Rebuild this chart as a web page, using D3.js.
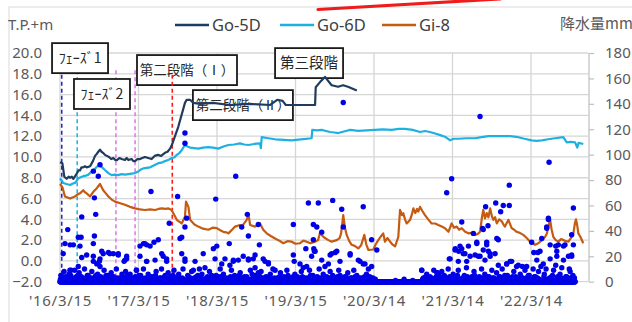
<!DOCTYPE html>
<html><head><meta charset="utf-8">
<script src="https://cdn.jsdelivr.net/npm/d3@7"></script>
<style>
html,body{margin:0;padding:0;background:#fff;}
svg{display:block;font-family:"Noto Sans","Noto Sans CJK JP",sans-serif;}
</style></head><body>
<svg id="chart" width="632" height="322"></svg>
<script>
// ---------------- DATA ----------------
const startDate = "2016-03-15";          // day 0
const axisEndDay = 2455;                 // end of the date axis (days from start)
const xTickDays = [0, 365, 730, 1095, 1460, 1825, 2190];
const xTickLabels = ["'16/3/15", "'17/3/15", "'18/3/15", "'19/3/15", "'20/3/14", "'21/3/14", "'22/3/14"];
const leftTicks = [-2, 0, 2, 4, 6, 8, 10, 12, 14, 16, 18, 20];
const rightTicks = [0, 20, 40, 60, 80, 100, 120, 140, 160, 180];
const seriesNames = ["Go-5D", "Go-6D", "Gi-8"];

// groundwater level T.P.+m : [day, value]
const go5d = [[0,9.5],[11,9.4],[20,8.1],[31,7.9],[40,8.1],[47,8.0],[55,8.1],[62,7.9],[78,8.4],[86,8.7],[93,8.7],[100,9.0],[108,9.0],[116,9.1],[124,9.0],[140,9.1],[153,9.6],[163,10.1],[171,10.3],[178,10.5],[186,10.7],[193,10.5],[200,10.4],[209,10.2],[228,10.0],[238,9.8],[248,9.9],[257,9.7],[265,9.7],[276,9.9],[287,9.8],[302,9.7],[310,9.9],[318,9.7],[333,9.8],[341,9.6],[349,9.6],[360,9.8],[372,9.8],[383,9.9],[395,10.0],[410,9.9],[426,9.8],[440,10.1],[456,10.2],[470,10.1],[488,10.4],[500,10.5],[512,10.8],[519,11.1],[550,12.9],[581,15.2],[589,15.5],[605,15.5],[620,15.2],[651,15.1],[711,15.2],[790,15.0],[884,15.1],[977,15.0],[1010,15.5],[1035,15.4],[1050,15.0],[1093,15.0],[1186,15.0],[1189,16.7],[1209,17.2],[1232,17.7],[1263,16.9],[1293,16.75],[1316,16.9],[1339,16.75],[1380,16.4]];
const go6d = [[0,7.95],[15,7.5],[30,7.4],[47,7.3],[60,7.45],[70,7.5],[85,7.95],[96,8.05],[108,8.15],[120,8.2],[132,8.3],[147,8.6],[160,8.8],[171,9.05],[186,9.2],[196,9.0],[209,8.75],[225,8.45],[240,8.25],[255,8.3],[270,8.25],[286,8.35],[302,8.3],[318,8.35],[333,8.4],[349,8.45],[364,8.6],[376,8.8],[387,8.9],[403,8.95],[419,9.0],[438,9.2],[457,9.4],[472,9.45],[488,9.6],[503,9.7],[519,9.9],[531,9.95],[543,10.2],[556,10.4],[566,10.65],[581,11.15],[593,11.0],[605,10.9],[624,10.85],[643,10.8],[665,10.9],[690,10.95],[712,10.9],[736,10.8],[760,11.0],[783,11.15],[810,11.2],[837,11.3],[856,11.2],[876,11.15],[903,11.25],[930,11.3],[934,10.85],[938,11.9],[968,11.8],[1000,11.7],[1040,11.65],[1077,11.6],[1120,11.7],[1170,11.8],[1173,12.6],[1195,12.55],[1217,12.6],[1236,12.5],[1256,12.4],[1275,12.35],[1294,12.3],[1320,12.45],[1349,12.6],[1387,12.5],[1425,12.55],[1465,12.6],[1500,12.65],[1542,12.6],[1575,12.7],[1604,12.7],[1640,12.6],[1674,12.4],[1697,12.5],[1720,12.4],[1744,12.25],[1768,12.1],[1790,11.95],[1814,11.6],[1830,11.75],[1852,11.75],[1890,11.8],[1930,11.8],[1960,11.9],[1992,12.0],[2040,12.0],[2093,12.0],[2131,11.9],[2160,11.75],[2193,11.6],[2215,11.55],[2240,11.6],[2270,11.7],[2302,11.8],[2340,11.9],[2356,11.4],[2375,11.45],[2395,11.4],[2405,10.9],[2411,11.35],[2433,11.25]];
const gi8 = [[0,7.4],[11,7.1],[23,6.2],[35,6.1],[47,6.0],[58,6.1],[70,6.2],[82,6.4],[93,6.5],[108,6.8],[116,6.6],[124,6.5],[140,6.2],[155,6.65],[171,7.0],[186,7.4],[201,6.8],[213,6.5],[225,6.2],[240,5.9],[256,5.7],[280,5.55],[302,5.4],[325,5.2],[349,5.05],[372,4.95],[395,4.9],[419,4.95],[442,4.9],[458,5.0],[473,5.05],[490,5.0],[504,5.05],[519,4.9],[543,3.95],[566,3.6],[581,4.25],[586,5.7],[597,5.2],[605,3.95],[625,3.5],[643,3.3],[665,3.1],[690,3.0],[710,3.2],[729,3.15],[745,2.95],[759,2.8],[772,2.75],[783,2.65],[800,3.0],[814,3.3],[837,3.45],[845,3.3],[868,3.95],[876,4.5],[884,3.45],[907,3.3],[930,3.6],[945,3.0],[961,2.65],[980,2.4],[1000,2.15],[1020,1.95],[1038,1.7],[1058,1.9],[1077,1.85],[1095,1.65],[1116,1.7],[1132,1.95],[1147,1.85],[1165,1.7],[1186,1.85],[1200,2.0],[1209,2.7],[1220,2.4],[1232,2.2],[1248,2.0],[1263,1.85],[1287,2.0],[1300,2.2],[1307,2.65],[1317,4.4],[1325,3.2],[1333,2.5],[1345,1.9],[1356,1.55],[1370,1.45],[1387,1.2],[1400,1.5],[1415,2.5],[1424,1.6],[1434,1.05],[1457,1.1],[1468,1.6],[1480,2.0],[1490,2.3],[1503,2.65],[1511,1.85],[1522,2.2],[1535,1.85],[1545,1.6],[1558,1.4],[1573,2.3],[1581,4.9],[1590,4.4],[1596,4.6],[1604,4.0],[1612,3.6],[1628,3.95],[1635,4.4],[1643,5.05],[1652,4.6],[1660,5.0],[1666,4.75],[1674,5.2],[1685,4.8],[1697,4.4],[1712,4.0],[1728,3.6],[1744,3.6],[1759,3.45],[1775,3.3],[1790,3.15],[1806,2.8],[1821,3.6],[1832,3.2],[1845,3.3],[1856,3.0],[1868,3.15],[1884,2.8],[1899,2.65],[1915,2.7],[1930,2.5],[1943,2.6],[1953,2.8],[1962,4.2],[1968,4.9],[1976,4.1],[1984,4.6],[1992,4.2],[2000,5.05],[2008,4.3],[2015,3.95],[2023,4.2],[2031,3.6],[2042,4.0],[2054,3.8],[2062,3.5],[2069,3.3],[2085,3.95],[2100,3.15],[2112,3.0],[2123,2.8],[2138,2.7],[2154,2.5],[2170,2.2],[2186,1.85],[2197,1.7],[2209,1.55],[2224,1.7],[2240,2.0],[2255,2.3],[2263,2.6],[2271,3.3],[2279,3.95],[2286,3.0],[2294,2.3],[2305,2.0],[2317,1.85],[2330,2.1],[2341,2.0],[2352,1.9],[2364,1.85],[2379,2.3],[2387,2.65],[2394,3.6],[2399,4.0],[2405,3.4],[2410,2.65],[2420,2.3],[2433,1.7]];

// daily precipitation (mm): observed every day from day 0 to rainObsEnd; days not listed = 0 mm
const rainObsEnd = 2395;
const rain = [[36,41],[101,51],[166,53],[155,87],[178,83],[186,92],[160,66],[98,35],[160,36],[23,30],[47,29],[62,29],[85,35],[93,28],[155,30],[15,22],[51,9],[101,19],[155,20],[183,16],[201,22],[232,22],[271,22],[298,16],[310,18],[171,14],[186,12],[372,28],[395,30],[419,28],[437,31],[457,33],[372,20],[403,16],[442,17],[480,20],[496,16],[423,71],[508,46],[547,67],[558,34],[581,117],[581,109],[589,50],[581,43],[566,35],[581,16],[620,9],[666,22],[713,26],[729,28],[724,65],[752,14],[787,30],[790,13],[806,17],[817,83],[845,43],[852,20],[871,53],[876,36],[876,17],[907,21],[922,45],[927,29],[953,16],[969,14],[1085,45],[1085,21],[1089,16],[1131,11],[1155,62],[1201,62],[1178,45],[1170,20],[1186,24],[1178,33],[1194,43],[1217,39],[1180,26],[1263,22],[1287,24],[1268,64],[1310,57],[1317,141],[1317,43],[1349,22],[1410,59],[1449,33],[1473,25],[1395,16],[1418,14],[1449,12],[1682,9],[1752,7],[1798,70],[1821,81],[1868,47],[1814,18],[1837,25],[1860,28],[1875,22],[1899,28],[1907,20],[1922,38],[1930,21],[1938,31],[1953,130],[1953,20],[1965,42],[1968,25],[1968,41],[1979,59],[1984,29],[1992,24],[2000,20],[2023,22],[2026,62],[2038,33],[2049,55],[2061,60],[2089,60],[2089,76],[2077,14],[2100,16],[2131,13],[2170,12],[2193,31],[2240,34],[2263,43],[2271,49],[2274,94],[2232,24],[2279,29],[2310,24],[2317,29],[2348,29],[2387,29],[2217,17],[2247,14],[2279,18],[2310,20],[2341,17],[2364,20],[2379,21],[2379,37],[2387,58],[2372,8],
 [2263,42],[2271,50],[2203,23],[2222,23],[2305,28],[2341,28],[2379,20],[2093,16],[2123,12],[2150,12],[2085,3],
 [1838,26],[1854,24],[1883,22],[1868,26],[1810,18],[1852,16],[1891,16],[1945,20],[1976,17],[2000,22],[2038,13],[2077,14],[1682,9],[1755,7],[1990,44],[2031,34],[1984,31],[1938,30],
 [1256,21],[1280,23],[1302,16],[1349,21],[1387,17],[1410,14],[1434,10],
 [124,21],[194,24],[225,23],[248,22],[271,21],[155,16],[186,18],[302,17],[310,20],[388,30],[403,29],[403,16],[356,9],[46,9],[85,12],[473,22],[496,18],[566,22],[581,18],[628,16],[674,11],[721,18],[767,18],[806,16],[829,17],[876,18],[899,18],[945,18],[969,15],[1000,9],[907,11],[922,7],[1143,26],[1183,24],[1116,14],[1147,12],[1217,17],[1232,12],[1248,14],
 [4,5],[9,3],[19,8],[28,4],[42,6],[55,3],[68,9],[76,4],[89,7],[105,3],[114,10],[127,5],[136,2],[148,8],[163,4],[175,6],[192,3],[205,9],[214,5],[226,3],[238,7],[250,4],[262,10],[279,3],[288,6],[305,8],[317,4],[326,6],[340,3],[355,9],[366,5],[380,3],[388,10],[410,6],[428,4],[447,8],[465,3],[472,10],[489,5],[503,7],[515,4],[530,9],[538,3],[552,6],[572,10],[594,5],[606,3],[612,8],[634,4],[648,10],[660,6],[681,3],[695,8],[705,5],[738,4],[745,10],[760,6],[775,3],[797,9],[812,5],[825,3],[838,7],[858,4],[885,9],[893,6],[914,3],[935,8],[958,4],[978,6],[990,10],[1010,3],[1025,7],[1040,4],[1055,9],[1068,3],[1092,6],[1104,4],[1122,8],[1138,3],[1160,9],[1176,5],[1190,3],[1205,10],[1224,6],[1240,4],[1256,8],[1275,3],[1296,9],[1302,5],[1325,4],[1338,7],[1356,3],[1366,9],[1380,5],[1402,3],[1425,6],[1440,4],[1455,3],
 [1690,3],[1705,6],[1720,4],[1738,9],[1745,3],[1762,5],[1775,8],[1790,4],[1805,10],[1828,6],[1845,3],[1852,9],[1880,5],[1890,11],[1915,4],[1925,8],[1945,3],[1960,10],[1975,6],[1995,4],[2008,9],[2012,3],[2030,7],[2045,4],[2056,10],[2068,5],[2082,3],[2110,8],[2118,4],[2140,6],[2150,3],[2162,9],[2178,5],[2200,10],[2210,4],[2225,8],[2236,12],[2252,6],[2260,10],[2286,4],[2295,9],[2305,13],[2325,6],[2333,11],[2356,4],[2368,10],[2385,5],[2392,3],
 [2,2],[7,1],[13,4],[17,2],[25,1],[31,3],[38,2],[44,1],[50,5],[58,2],[64,1],[72,3],[80,2],[83,5],[95,1],[99,4],[109,2],[118,1],[122,3],[131,5],[140,1],[144,3],[152,2],[158,1],[168,5],[172,2],[180,1],[189,4],[196,2],[200,1],[210,3],[218,1],[222,5],[230,2],[236,1],[244,4],[253,2],[258,1],[266,3],[272,1],[284,2],[292,4],[298,1],[309,2],[314,5],[321,1],[330,3],[336,2],[345,1],[350,4],[360,2],[369,1],[375,5],[384,2],[392,1],[398,3],[406,2],[414,1],[420,4],[432,2],[438,1],[444,5],[452,2],[459,1],[468,3],[476,2],[482,1],[486,4],[494,2],[500,1],[509,3],[520,2],[526,5],[534,1],[545,2],[550,4],[560,1],[568,3],[576,2],[588,1],[598,4],[603,2],[616,1],[624,3],[630,2],[641,5],[652,1],[656,3],[668,2],[676,1],[686,4],[692,2],[700,1],[710,3],[716,2],[726,5],[733,1],[742,2],[750,4],[756,1],[765,3],[771,2],[780,1],[793,4],[800,2],[808,1],[818,3],[822,2],[833,5],[842,1],[848,3],[855,2],[862,1],[868,4],[880,2],[889,1],[897,3],[904,2],[910,5],[918,1],[925,2],[931,4],[940,1],[948,3],[955,2],[963,1],[972,4],[982,2],[986,1],[996,3],[1004,2],[1015,1],[1020,4],[1030,2],[1036,1],[1045,3],[1050,2],[1060,5],[1072,1],[1078,2],[1084,4],[1096,1],[1100,3],[1110,2],[1116,1],[1127,4],[1134,2],[1142,1],[1150,3],[1156,2],[1165,5],[1172,1],[1181,2],[1196,4],[1200,1],[1210,3],[1214,2],[1220,1],[1230,4],[1236,2],[1245,1],[1252,3],[1260,2],[1268,5],[1272,1],[1284,2],[1290,4],[1299,1],[1308,3],[1314,2],[1320,1],[1330,4],[1334,2],[1344,1],[1352,3],[1360,2],[1372,4],[1376,1],[1386,2],[1392,3],[1398,1],[1408,2],[1416,4],[1430,1],[1436,2],[1445,3],[1460,1],[1466,2],
 [1560,1],[1600,2],[1640,1],[1686,2],[1694,1],[1700,4],[1712,2],[1716,1],[1726,3],[1732,2],[1742,1],[1750,4],[1758,2],[1768,1],[1772,3],[1782,2],[1786,5],[1796,1],[1802,2],[1812,4],[1818,1],[1824,3],[1832,2],[1840,1],[1848,5],[1858,2],[1864,1],[1872,3],[1878,2],[1886,1],[1894,4],[1902,2],[1910,1],[1918,3],[1920,2],[1928,5],[1934,1],[1942,2],[1950,4],[1956,1],[1964,3],[1972,2],[1980,1],[1988,4],[1998,2],[2004,1],[2018,3],[2022,2],[2036,1],[2042,4],[2050,2],[2060,1],[2064,3],[2072,2],[2080,5],[2090,1],[2096,2],[2104,4],[2114,1],[2122,3],[2128,2],[2136,1],[2144,4],[2156,2],[2160,1],[2168,3],[2174,2],[2182,5],[2190,1],[2196,2],[2206,4],[2214,1],[2220,3],[2228,2],[2244,1],[2250,4],[2256,2],[2266,1],[2276,3],[2282,2],[2290,5],[2300,1],[2308,2],[2314,4],[2322,1],[2330,3],[2338,2],[2346,1],[2352,4],[2360,2],[2366,1],[2374,3],[2382,2],[2390,1]];

// construction phase events
const eventDays = [8, 80, 260, 349, 522];
const eventLabels = ["ﾌｪｰｽﾞ1", "ﾌｪｰｽﾞ2", "第二段階（Ⅰ）", "第二段階（Ⅱ）", "第三段階"];

// ---------------- DRAWING ----------------
const svg = d3.select("#chart");
const W = 632, H = 322;
const plot = {left: 60, right: 588, top: 53, bottom: 281.7};
const start = d3.utcParse("%Y-%m-%d")(startDate);
const dayDate = d => d3.utcDay.offset(start, d);

const x = d3.scaleUtc().domain([start, dayDate(axisEndDay)]).range([plot.left, plot.right]);
const yL = d3.scaleLinear().domain([-2, 20]).range([plot.bottom, plot.top]);
const yR = d3.scaleLinear().domain([0, 180]).range([plot.bottom, plot.top]);

const gray = "#595959", grid = "#d6d6d6";

// chart frame
svg.append("rect").attr("x", 9).attr("y", 7).attr("width", W).attr("height", H)
  .attr("fill", "none").attr("stroke", "#d9d9d9").attr("stroke-width", 1);

// red stroke at the top of the picture
svg.append("line").attr("x1", 318).attr("y1", 9.5).attr("x2", 500).attr("y2", -1)
  .attr("stroke", "#ee1c1c").attr("stroke-width", 3.2).attr("stroke-linecap", "round");

// gridlines
svg.append("g").selectAll("line").data(leftTicks).join("line")
  .attr("x1", plot.left).attr("x2", plot.right)
  .attr("y1", d => yL(d)).attr("y2", d => yL(d))
  .attr("stroke", grid).attr("stroke-width", 1.3);
svg.append("g").selectAll("line").data(xTickDays).join("line")
  .attr("x1", d => x(dayDate(d))).attr("x2", d => x(dayDate(d)))
  .attr("y1", plot.top).attr("y2", plot.bottom)
  .attr("stroke", grid).attr("stroke-width", 1.3);

// left axis labels
const leftAxis = d3.axisLeft(yL).tickValues(leftTicks).tickFormat(d3.format(".1f")).tickSize(0).tickPadding(18);
const gL = svg.append("g").attr("transform", `translate(${plot.left},0)`).call(leftAxis);
gL.select(".domain").remove();
gL.selectAll("text").attr("fill", gray).style("font-size", "15px").style("font-family", '"Noto Sans",sans-serif');

// right axis
const rightAxis = d3.axisRight(yR).tickValues(rightTicks).tickSize(5).tickPadding(11);
const gR = svg.append("g").attr("transform", `translate(${plot.right + 1},0)`).call(rightAxis);
gR.select(".domain").attr("stroke", "#bfbfbf").attr("stroke-width", 1.2).attr("d", `M0,${plot.top}V${plot.bottom}`);
gR.selectAll("line").attr("stroke", "#bfbfbf").attr("stroke-width", 1.2);
gR.selectAll("text").attr("fill", gray).style("font-size", "15px").style("font-family", '"Noto Sans",sans-serif');

// bottom axis labels
const bottomAxis = d3.axisBottom(x).tickValues(xTickDays.map(dayDate))
  .tickFormat((d, i) => xTickLabels[i]).tickSize(0).tickPadding(14);
const gB = svg.append("g").attr("transform", `translate(0,${plot.bottom})`).call(bottomAxis);
gB.select(".domain").remove();
gB.selectAll("text").attr("fill", gray).style("font-size", "15px")
  .style("letter-spacing", "0.7px").style("font-family", '"Noto Sans",sans-serif');

// axis titles
svg.append("text").attr("x", 8).attr("y", 30).attr("fill", gray).style("font-size", "15px").text("T.P.+m");
svg.append("text").attr("x", 560).attr("y", 29).attr("fill", gray)
  .style("font-size", "15px").style("font-family", '"Noto Sans CJK JP",sans-serif').text("降水量mm");

// legend
const colors = {"Go-5D": "#1f3b5e", "Go-6D": "#1fb0e2", "Gi-8": "#c55a11"};
const legendX = [175, 280, 382];
seriesNames.forEach((n, i) => {
  const lx = legendX[i];
  svg.append("line").attr("x1", lx).attr("x2", lx + 34).attr("y1", 25).attr("y2", 25)
    .attr("stroke", colors[n]).attr("stroke-width", 2.5);
  svg.append("text").attr("x", lx + 37).attr("y", 31).attr("fill", "#404040")
    .style("font-size", "16.5px").text(n);
});

// event dashed lines
const eventColors = ["#2a2ab8", "#2ab4e0", "#e07ce8", "#e07ce8", "#ff1a1a"];
const eventTop = [17.9, 18.35, 18.35, 18.35, 17.9];
const evG = svg.append("g");
eventDays.forEach((d, i) => {
  if (i === 4) return;
  evG.append("line").attr("x1", x(dayDate(d))).attr("x2", x(dayDate(d)))
    .attr("y1", yL(eventTop[i])).attr("y2", plot.bottom)
    .attr("stroke", eventColors[i]).attr("stroke-width", 1.6).attr("stroke-dasharray", "4,3");
});

// annotation boxes: [label index, anchor day (left edge), anchor value (top edge), width, height, font size]
const boxes = [
  [0, -37, 20.95, 56, 30, 14],
  [1, 65, 17.5, 56, 30, 14],
  [2, 358, 19.8, 100, 30, 13.5],
  [3, 618, 16.43, 100, 30, 13.5],
  [4, 1000, 20.47, 68, 30, 14.5]
];
const bG = svg.append("g");
boxes.forEach(([li, d, v, w, h, fs]) => {
  const bx = x(dayDate(d)), by = yL(v);
  bG.append("rect").attr("x", bx).attr("y", by).attr("width", w).attr("height", h)
    .attr("fill", "#fff").attr("stroke", "#1a1a1a").attr("stroke-width", 1.8);
  bG.append("text").attr("x", bx + w / 2).attr("y", by + h / 2 + fs * 0.36)
    .attr("text-anchor", "middle").attr("fill", "#262626")
    .style("font-family", '"Noto Sans CJK JP",sans-serif').style("font-size", fs + "px")
    .text(eventLabels[li]);
});

// red event line drawn above its box
svg.append("line").attr("x1", x(dayDate(eventDays[4]))).attr("x2", x(dayDate(eventDays[4])))
  .attr("y1", yL(eventTop[4])).attr("y2", plot.bottom)
  .attr("stroke", eventColors[4]).attr("stroke-width", 1.6).attr("stroke-dasharray", "4,3");

// series lines
const line = d3.line().x(d => x(dayDate(d[0]))).y(d => yL(d[1]));
[["Gi-8", gi8], ["Go-6D", go6d], ["Go-5D", go5d]].forEach(([n, data]) => {
  svg.append("path").datum(data).attr("d", line).attr("fill", "none")
    .attr("stroke", colors[n]).attr("stroke-width", 2.2).attr("stroke-linejoin", "round");
});

// precipitation dots
const rainMap = new Map();
rain.forEach(([d, mm]) => { if (!rainMap.has(d)) rainMap.set(d, []); rainMap.get(d).push(mm); });
const rainAll = [];
for (let d = 0; d <= rainObsEnd; d++) {
  if (rainMap.has(d)) rainMap.get(d).forEach(mm => rainAll.push([d, mm]));
  else rainAll.push([d, 0]);
}
svg.append("g").selectAll("circle").data(rainAll).join("circle")
  .attr("cx", d => x(dayDate(d[0]))).attr("cy", d => yR(d[1])).attr("r", 2.7)
  .attr("fill", "#0000e6");
</script>
</body></html>
